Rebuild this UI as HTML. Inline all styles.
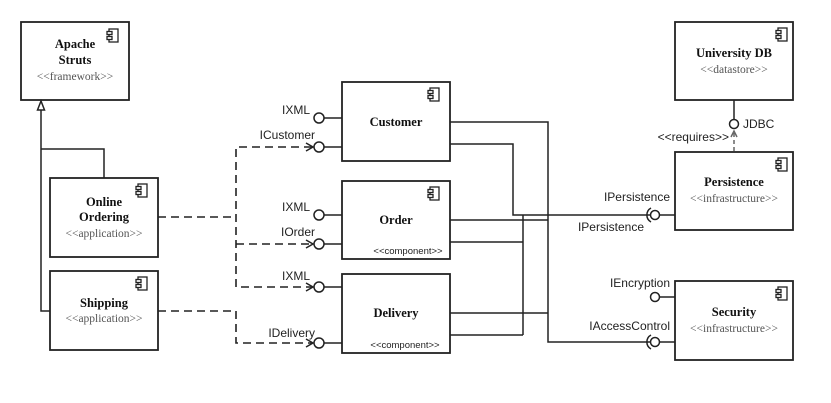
<!DOCTYPE html>
<html><head><meta charset="utf-8"><style>
html,body{margin:0;padding:0;background:#fff;}
svg{display:block}
.b{font-family:"Liberation Serif",serif;font-weight:bold;font-size:12.5px;fill:#111;text-anchor:middle}
.s{font-family:"Liberation Serif",serif;font-size:11.5px;fill:#555;text-anchor:middle}
.c{font-family:"Liberation Sans",sans-serif;font-size:9.5px;fill:#222;text-anchor:middle}
.l{font-family:"Liberation Sans",sans-serif;font-size:12px;fill:#222}
</style></head><body>
<svg width="831" height="403" viewBox="0 0 831 403" xmlns="http://www.w3.org/2000/svg">
<defs>
<g id="ic"><rect x="2" y="0" width="9" height="13" fill="#fff" stroke="#222" stroke-width="1.3"/><rect x="0" y="2.5" width="5" height="3" fill="#fff" stroke="#222" stroke-width="1.3"/><rect x="0" y="7.5" width="5" height="3" fill="#fff" stroke="#222" stroke-width="1.3"/></g>
</defs>
<g fill="#fff" stroke="#222" stroke-width="1.8">
<rect x="21" y="22" width="108" height="78"/>
<rect x="50" y="178" width="108" height="79"/>
<rect x="50" y="271" width="108" height="79"/>
<rect x="342" y="82" width="108" height="79"/>
<rect x="342" y="181" width="108" height="78"/>
<rect x="342" y="274" width="108" height="79"/>
<rect x="675" y="22" width="118" height="78"/>
<rect x="675" y="152" width="118" height="78"/>
<rect x="675" y="281" width="118" height="79"/>
</g>
<use href="#ic" x="107" y="29"/><use href="#ic" x="136" y="184"/><use href="#ic" x="136" y="277"/>
<use href="#ic" x="428" y="88"/><use href="#ic" x="428" y="187"/>
<use href="#ic" x="776" y="28"/><use href="#ic" x="776" y="158"/><use href="#ic" x="776" y="287"/>

<text class="b" x="75" y="48">Apache</text><text class="b" x="75" y="64">Struts</text><text class="s" x="75" y="80">&lt;&lt;framework&gt;&gt;</text>
<text class="b" x="104" y="206">Online</text><text class="b" x="104" y="221">Ordering</text><text class="s" x="104" y="237">&lt;&lt;application&gt;&gt;</text>
<text class="b" x="104" y="307">Shipping</text><text class="s" x="104" y="322">&lt;&lt;application&gt;&gt;</text>
<text class="b" x="396" y="126">Customer</text>
<text class="b" x="396" y="224">Order</text><text class="c" x="408" y="254">&lt;&lt;component&gt;&gt;</text>
<text class="b" x="396" y="317">Delivery</text><text class="c" x="405" y="348">&lt;&lt;component&gt;&gt;</text>
<text class="b" x="734" y="57">University DB</text><text class="s" x="734" y="73">&lt;&lt;datastore&gt;&gt;</text>
<text class="b" x="734" y="186">Persistence</text><text class="s" x="734" y="202">&lt;&lt;infrastructure&gt;&gt;</text>
<text class="b" x="734" y="316">Security</text><text class="s" x="734" y="332">&lt;&lt;infrastructure&gt;&gt;</text>

<g fill="none" stroke="#222" stroke-width="1.5">
<polyline points="104,178 104,149 41,149"/>
<polyline points="50,311 41,311 41,110"/>
<polygon points="41,101 37.5,110 44.5,110" fill="#fff"/>
<line x1="324" y1="118" x2="342" y2="118"/><line x1="324" y1="147" x2="342" y2="147"/>
<line x1="324" y1="215" x2="342" y2="215"/><line x1="324" y1="244" x2="342" y2="244"/>
<line x1="324" y1="287" x2="342" y2="287"/><line x1="324" y1="343" x2="342" y2="343"/>
<circle cx="319" cy="118" r="5" fill="#fff"/><circle cx="319" cy="147" r="5" fill="#fff"/>
<circle cx="319" cy="215" r="5" fill="#fff"/><circle cx="319" cy="244" r="5" fill="#fff"/>
<circle cx="319" cy="287" r="5" fill="#fff"/><circle cx="319" cy="343" r="5" fill="#fff"/>
<polyline points="306,143 313,147 306,151"/><polyline points="306,240 313,244 306,248"/>
<polyline points="306,283 313,287 306,291"/><polyline points="306,339 313,343 306,347"/>
<polyline points="450,122 548,122 548,342 650,342"/>
<polyline points="450,144 513,144 513,215 650,215"/>
<line x1="450" y1="220" x2="548" y2="220"/>
<polyline points="450,242 523,242"/>
<line x1="523" y1="215" x2="523" y2="335"/>
<line x1="450" y1="313" x2="548" y2="313"/>
<line x1="450" y1="335" x2="523" y2="335"/>
<line x1="660" y1="215" x2="675" y2="215"/><circle cx="655" cy="215" r="4.5" fill="#fff"/>
<path d="M651,208 A8,8 0 0 0 651,222"/>
<line x1="660" y1="342" x2="675" y2="342"/><circle cx="655" cy="342" r="4.5" fill="#fff"/>
<path d="M651,335 A8,8 0 0 0 651,349"/>
<line x1="660" y1="297" x2="675" y2="297"/><circle cx="655" cy="297" r="4.5" fill="#fff"/>
<line x1="734" y1="100" x2="734" y2="119"/><circle cx="734" cy="124" r="4.5" fill="#fff"/>
<line x1="734" y1="133" x2="734" y2="152" stroke="#666" stroke-dasharray="4,3"/>
<polyline points="731,137 734,131 737,137" stroke="#666"/>
</g>
<g fill="none" stroke="#222" stroke-width="1.6" stroke-dasharray="8,5">
<polyline points="312,147 236,147 236,287 312,287"/>
<line x1="158" y1="217" x2="236" y2="217"/>
<line x1="236" y1="244" x2="312" y2="244"/>
<polyline points="158,311 236,311 236,343 312,343"/>
</g>
<text class="l" x="310" y="114" text-anchor="end">IXML</text>
<text class="l" x="315" y="139" text-anchor="end">ICustomer</text>
<text class="l" x="310" y="211" text-anchor="end">IXML</text>
<text class="l" x="315" y="236" text-anchor="end">IOrder</text>
<text class="l" x="310" y="280" text-anchor="end">IXML</text>
<text class="l" x="315" y="337" text-anchor="end">IDelivery</text>
<text class="l" x="743" y="128">JDBC</text>
<text class="l" x="729" y="141" text-anchor="end">&lt;&lt;requires&gt;&gt;</text>
<text class="l" x="670" y="201" text-anchor="end">IPersistence</text>
<text class="l" x="644" y="231" text-anchor="end">IPersistence</text>
<text class="l" x="670" y="287" text-anchor="end">IEncryption</text>
<text class="l" x="670" y="330" text-anchor="end">IAccessControl</text>
</svg>
</body></html>
